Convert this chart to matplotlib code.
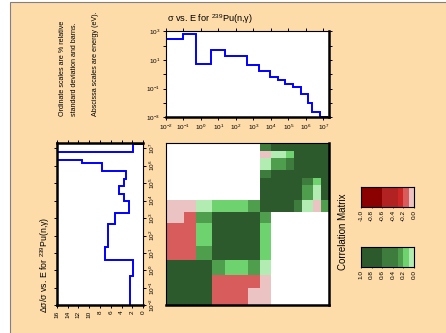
import numpy as np
import matplotlib
matplotlib.use("Agg")
import matplotlib.pyplot as plt
from matplotlib.colors import ListedColormap, BoundaryNorm
from matplotlib.patches import Rectangle
from matplotlib.ticker import FixedLocator, FuncFormatter, NullLocator

PEACH = "#fddcaa"
BLUE = "#0000ff"
W, H = 446, 333

plt.rcParams["font.family"] = ["Liberation Sans", "DejaVu Sans"]
plt.rcParams["mathtext.fontset"] = "custom"
plt.rcParams["mathtext.rm"] = "Liberation Sans"
plt.rcParams["mathtext.it"] = "Liberation Sans:italic"
plt.rcParams["mathtext.bf"] = "Liberation Sans:bold"

# --- data: 15-group structure (eV) ---
ENERGY_EDGES = [1e-5, 0.1, 0.5, 4.0, 22.6, 454.0, 2035.0, 9118.0, 2.48e4,
                6.74e4, 1.83e5, 4.98e5, 1.35e6, 2.23e6, 6.07e6, 1.75e7]
XS_BARNS = [300, 700, 5.2, 50, 19, 4.5, 1.7, 0.69, 0.4, 0.21, 0.14,
            0.043, 0.0095, 0.0025, 0.0011]
REL_STD_PCT = [2.5, 2.5, 1.85, 7.0, 6.6, 5.3, 2.6, 3.6, 4.4, 3.6, 3.2,
               7.6, 11.3, 20.0, 1.85]

# rows = y group (low E at bottom), cols = x group; 0 = uncorrelated (white)
CORR = [
    [1.0, 0.8, 0.8, -0.15, -0.15, -0.05, -0.05, 0, 0, 0, 0, 0, 0, 0, 0],
    [0.8, 1.0, 0.8, -0.15, -0.15, -0.15, -0.05, 0, 0, 0, 0, 0, 0, 0, 0],
    [0.8, 0.8, 1.0, 0.25, 0.15, 0.25, 0.05, 0, 0, 0, 0, 0, 0, 0, 0],
    [-0.15, -0.15, 0.25, 1.0, 0.8, 0.8, 0.15, 0, 0, 0, 0, 0, 0, 0, 0],
    [-0.15, -0.15, 0.15, 0.8, 1.0, 0.8, 0.15, 0, 0, 0, 0, 0, 0, 0, 0],
    [-0.05, -0.15, 0.25, 0.8, 0.8, 1.0, 0.25, 0, 0, 0, 0, 0, 0, 0, 0],
    [-0.05, -0.05, 0.05, 0.15, 0.15, 0.25, 1.0, 0.8, 0.8, 0.8, 0.45, 0.05, 0.05, -0.05, 0.25],
    [0, 0, 0, 0, 0, 0, 0.8, 1.0, 0.8, 0.8, 0.8, 0.25, 0.25, 0.05, 0.8],
    [0, 0, 0, 0, 0, 0, 0.8, 0.8, 1.0, 0.8, 0.8, 0.25, 0.25, 0.05, 0.8],
    [0, 0, 0, 0, 0, 0, 0.8, 0.8, 0.8, 1.0, 0.8, 0.45, 0.45, 0.15, 0.8],
    [0, 0, 0, 0, 0, 0, 0.45, 0.8, 0.8, 0.8, 1.0, 0.8, 0.8, 0.8, 0.8],
    [0, 0, 0, 0, 0, 0, 0.05, 0.25, 0.25, 0.45, 0.8, 1.0, 0.8, 0.8, 0.8],
    [0, 0, 0, 0, 0, 0, 0.05, 0.25, 0.25, 0.45, 0.8, 0.8, 1.0, 0.8, 0.8],
    [0, 0, 0, 0, 0, 0, -0.05, 0.05, 0.05, 0.15, 0.8, 0.8, 0.8, 1.0, 0.8],
    [0, 0, 0, 0, 0, 0, 0.45, 0.8, 0.8, 0.8, 0.8, 0.8, 0.8, 0.8, 1.0],
]

CMAP_BOUNDS = [-1.0, -0.6, -0.3, -0.2, -0.1, 0.0, 0.1, 0.2, 0.3, 0.6, 1.0]
CMAP_COLORS = ["#8b0000", "#b22222", "#cd2626", "#d95c5c", "#ecc3c3",
               "#b2ecb2", "#6ed36e", "#4e9e4e", "#3e7c3e", "#2d5a2d"]
NEG_TICKS = [-1.0, -0.8, -0.6, -0.4, -0.2, 0.0]
POS_TICKS = [1.0, 0.8, 0.6, 0.4, 0.2, 0.0]

cmap = ListedColormap(CMAP_COLORS)
norm = BoundaryNorm(CMAP_BOUNDS, cmap.N, clip=True)

TICK = 4.6
E_LIM = (1e-2, 2.1e7)


def rect(x0, y0, x1, y1):
    """pixel box (top-left origin) -> figure fraction rect"""
    return [x0 / W, 1 - y1 / H, (x1 - x0) / W, (y1 - y0) / H]


def decade_fmt(v, _=None):
    return r"$10^{%d}$" % round(np.log10(v))


def odd_decade_fmt(v, _=None):
    e = round(np.log10(v))
    return r"$10^{%d}$" % e if e % 2 else ""


def spines(ax, thick):
    for side, sp in ax.spines.items():
        sp.set_color("black")
        sp.set_linewidth(1.8 if side in thick else 0.8)


fig = plt.figure(figsize=(W / 100, H / 100), dpi=100)
fig.patch.set_facecolor("white")
fig.patches.append(Rectangle((10 / W, -0.02), 1.0, 1.02 - 1.5 / H,
                             transform=fig.transFigure, facecolor=PEACH,
                             edgecolor="#808080", lw=0.8, zorder=-10))

decades = [10.0 ** e for e in range(-2, 8)]

# --- cross section (top) ---
ax_xs = fig.add_axes(rect(166, 31.3, 329, 117.3))
ax_xs.stairs(XS_BARNS, ENERGY_EDGES, baseline=None, color=BLUE, lw=1.4)
ax_xs.set_xscale("log")
ax_xs.set_yscale("log")
ax_xs.set_xlim(*E_LIM)
ax_xs.set_ylim(1e-3, 1e3)
ax_xs.xaxis.set_major_locator(FixedLocator(decades))
ax_xs.xaxis.set_major_formatter(FuncFormatter(decade_fmt))
ax_xs.xaxis.set_minor_locator(NullLocator())
ax_xs.yaxis.set_major_locator(FixedLocator([10.0 ** e for e in range(-3, 4)]))
ax_xs.yaxis.set_major_formatter(FuncFormatter(odd_decade_fmt))
ax_xs.yaxis.set_minor_locator(NullLocator())
ax_xs.tick_params(axis="both", direction="out", length=2.5, width=0.7,
                  labelsize=TICK, pad=1.5, right=True)
ax_xs.tick_params(axis="x", top=True)
spines(ax_xs, ("right", "bottom"))

# --- relative std dev (left, rotated) ---
ax_rel = fig.add_axes(rect(56.7, 142.7, 143.3, 305.3))
ax_rel.stairs(REL_STD_PCT, ENERGY_EDGES, orientation="horizontal",
              baseline=0, color=BLUE, lw=1.4)
ax_rel.set_yscale("log")
ax_rel.set_xlim(16, 0)
ax_rel.set_ylim(*E_LIM)
ax_rel.xaxis.set_major_locator(FixedLocator(list(range(0, 17, 2))))
ax_rel.yaxis.set_major_locator(FixedLocator(decades))
ax_rel.yaxis.set_major_formatter(FuncFormatter(decade_fmt))
ax_rel.yaxis.set_minor_locator(NullLocator())
ax_rel.tick_params(axis="both", direction="out", length=2.5, width=0.7,
                   labelsize=TICK, pad=1.5)
ax_rel.tick_params(axis="x", top=True, labelrotation=90)
ax_rel.tick_params(axis="y", left=True, right=True, labelleft=False,
                   labelright=True, labelrotation=90, length=2)
for lab in ax_rel.get_yticklabels():
    lab.set_va("center")
spines(ax_rel, ("left", "top", "bottom"))

# --- correlation matrix ---
ax_m = fig.add_axes(rect(166, 142.7, 329, 305.3))
corr = np.ma.masked_equal(np.array(CORR, dtype=float), 0.0)
ax_m.pcolormesh(ENERGY_EDGES, ENERGY_EDGES, corr, cmap=cmap, norm=norm)
ax_m.set_xscale("log")
ax_m.set_yscale("log")
ax_m.set_xlim(1e-2, ENERGY_EDGES[-1])
ax_m.set_ylim(1e-2, ENERGY_EDGES[-1])
ax_m.set_xticks([])
ax_m.set_yticks([])
ax_m.xaxis.set_minor_locator(NullLocator())
ax_m.yaxis.set_minor_locator(NullLocator())
spines(ax_m, ("right", "bottom"))

# --- colour keys ---
for box, lo, hi, ticks in [((361, 187, 414, 207), 0, 6, NEG_TICKS),
                           ((361, 247, 414, 267), 5, 11, POS_TICKS)]:
    cax = fig.add_axes(rect(*box))
    b = np.array(CMAP_BOUNDS[lo:hi])
    mids = ((b[:-1] + b[1:]) / 2).reshape(1, -1)
    cax.pcolormesh(b, [0, 1], mids, cmap=cmap, norm=norm)
    cax.set_xlim(ticks[0], ticks[-1])
    cax.set_yticks([])
    cax.set_xticks(ticks)
    cax.set_xticklabels([f"{t:.1f}" if t != 0 else "0.0" for t in ticks])
    cax.tick_params(axis="x", length=1, width=0.5, labelsize=TICK,
                    labelrotation=90, pad=1)
    spines(cax, ())

fig.text(343 / W, 1 - 232 / H, "Correlation Matrix", rotation=90,
         ha="center", va="center", fontsize=7)
fig.text(167 / W, 1 - 19 / H, "σ vs. E for $^{239}$Pu(n,γ)",
         ha="left", va="center", fontsize=6.6)
fig.text(45 / W, 1 - 313 / H, "Δσ/σ vs. E for $^{239}$Pu(n,γ)",
         rotation=90, ha="center", va="bottom", fontsize=6.3)

notes = [(62.5, "Ordinate scales are % relative"),
         (74.5, "standard deviation and barns."),
         (95.5, "Abscissa scales are energy (eV).")]
for x, s in notes:
    fig.text(x / W, 1 - 116 / H, s, rotation=90, ha="center", va="bottom",
             fontsize=5.1)

fig.savefig("out.png", dpi=100, facecolor=fig.get_facecolor())
